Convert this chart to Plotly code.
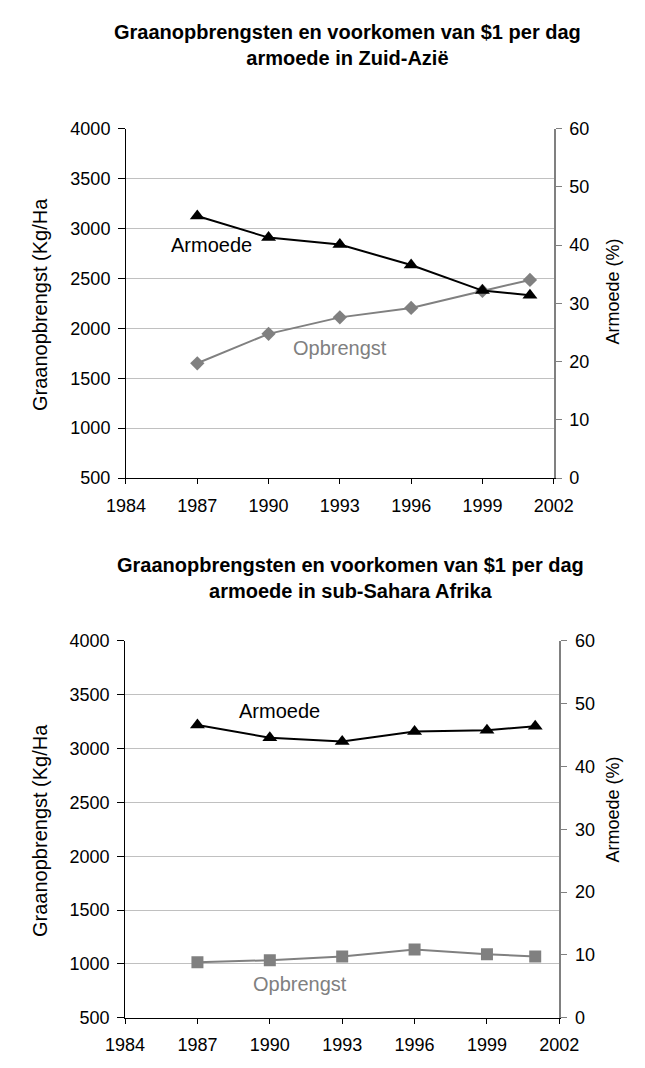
import plotly.graph_objects as go

W, H = 645, 1068

years = [1987, 1990, 1993, 1996, 1999, 2001]
# Zuid-Azië
sa_opbrengst = [1650, 1945, 2110, 2205, 2375, 2485]
sa_armoede = [45.0, 41.3, 40.1, 36.6, 32.2, 31.4]
# sub-Sahara Afrika
ssa_opbrengst = [1015, 1035, 1070, 1135, 1090, 1070]
ssa_armoede = [46.6, 44.6, 44.0, 45.6, 45.8, 46.4]

x_ticks = [1984, 1987, 1990, 1993, 1996, 1999, 2002]
left_ticks = [500, 1000, 1500, 2000, 2500, 3000, 3500, 4000]
right_ticks = [0, 10, 20, 30, 40, 50, 60]

title_top = "Graanopbrengsten en voorkomen van $1 per dag<br>armoede in Zuid-Azië"
title_bot = "Graanopbrengsten en voorkomen van $1 per dag<br>armoede in sub-Sahara Afrika"
ytitle_left = "Graanopbrengst (Kg/Ha"
ytitle_right = "Armoede (%)"

FONT = "Liberation Sans, Arial, sans-serif"
GREY = "#808080"


def px_x(p):
    return p / W


def px_y(p):
    return 1 - p / H


fig = go.Figure()

fig.add_trace(go.Scatter(x=years, y=sa_opbrengst, mode="lines+markers", xaxis="x", yaxis="y",
                         line=dict(color=GREY, width=2),
                         marker=dict(symbol="diamond", size=11, color=GREY), showlegend=False))
fig.add_trace(go.Scatter(x=years, y=sa_armoede, mode="lines+markers", xaxis="x", yaxis="y2",
                         line=dict(color="black", width=2),
                         marker=dict(symbol="triangle-up", size=13, color="black"), showlegend=False))
fig.add_trace(go.Scatter(x=years, y=ssa_opbrengst, mode="lines+markers", xaxis="x2", yaxis="y3",
                         line=dict(color=GREY, width=2),
                         marker=dict(symbol="square", size=12, color=GREY), showlegend=False))
fig.add_trace(go.Scatter(x=years, y=ssa_armoede, mode="lines+markers", xaxis="x2", yaxis="y4",
                         line=dict(color="black", width=2),
                         marker=dict(symbol="triangle-up", size=13, color="black"), showlegend=False))

tickfont = dict(family=FONT, size=18, color="black")

top_x = [px_x(113), px_x(569)]
top_y = [px_y(477), px_y(121)]
bot_x = [px_x(112), px_x(575)]
bot_y = [px_y(1027), px_y(643)]


def xaxis(domain, anchor):
    return dict(domain=domain, anchor=anchor, range=[x_ticks[0], x_ticks[-1]], tickvals=x_ticks,
                showgrid=False, zeroline=False, showline=True, linecolor="black", linewidth=1,
                ticks="outside", ticklen=5, tickcolor="black", tickfont=tickfont,
                ticklabelstandoff=6)


def yleft(domain, anchor):
    return dict(domain=domain, anchor=anchor, range=[left_ticks[0], left_ticks[-1]], tickvals=left_ticks,
                showgrid=True, gridcolor="#c0c0c0", gridwidth=1, zeroline=False,
                showline=True, linecolor="black", linewidth=1,
                ticks="outside", ticklen=7, tickcolor="black", tickfont=tickfont,
                ticklabelstandoff=4)


def yright(overlay, anchor, inside=False):
    d = dict(overlaying=overlay, anchor=anchor, side="right",
             range=[right_ticks[0], right_ticks[-1]], tickvals=right_ticks,
             showgrid=False, zeroline=False, tickcolor=GREY, tickwidth=1)
    if inside:
        d.update(showline=False, ticks="inside", ticklen=7, showticklabels=False)
    else:
        d.update(showline=True, linecolor=GREY, linewidth=2, ticks="outside", ticklen=6,
                 tickfont=tickfont, ticklabelstandoff=4)
    return d


fig.update_layout(
    width=W, height=H,
    margin=dict(l=0, r=0, t=0, b=0),
    paper_bgcolor="white", plot_bgcolor="white",
    font=dict(family=FONT, color="black"),
    xaxis=xaxis(top_x, "y"),
    yaxis=yleft(top_y, "x"),
    yaxis2=yright("y", "x"),
    xaxis2=xaxis(bot_x, "y3"),
    yaxis3=yleft(bot_y, "x2"),
    yaxis4=yright("y3", "x2"),
    yaxis5=yright("y", "x", inside=True),
    yaxis6=yright("y3", "x2", inside=True),
)


def pann(text, xp, yp, size, color="black", angle=0):
    return dict(text=text, x=px_x(xp), y=px_y(yp), xref="paper", yref="paper",
                xanchor="center", yanchor="middle", showarrow=False, textangle=angle,
                font=dict(family=FONT, size=size, color=color), align="center")


ann = []
ann.append(pann("<b>" + title_top + "</b>", 349, 36, 20))
ann.append(pann("<b>" + title_bot + "</b>", 352, 579, 20))
ann.append(pann(ytitle_left, 22, 300, 20, angle=-90))
ann.append(pann(ytitle_left, 22, 836, 20, angle=-90))
ann.append(pann(ytitle_right, 632, 287, 18, angle=-90))
ann.append(pann(ytitle_right, 632, 815, 18, angle=-90))


def dann(text, x, y, xr, yr, color):
    return dict(text=text, x=x, y=y, xref=xr, yref=yr, xanchor="center", yanchor="middle",
                showarrow=False, font=dict(family=FONT, size=20, color=color))


ann.append(dann("Armoede", 1987.6, 40.0, "x", "y2", "black"))
ann.append(dann("Opbrengst", 1993.0, 1807, "x", "y", GREY))
ann.append(dann("Armoede", 1990.4, 48.9, "x2", "y4", "black"))
ann.append(dann("Opbrengst", 1991.25, 818, "x2", "y3", GREY))
fig.update_layout(annotations=ann)

fig.write_html("out.html", config={"displayModeBar": False},
               post_script="document.body.style.margin='0';")
